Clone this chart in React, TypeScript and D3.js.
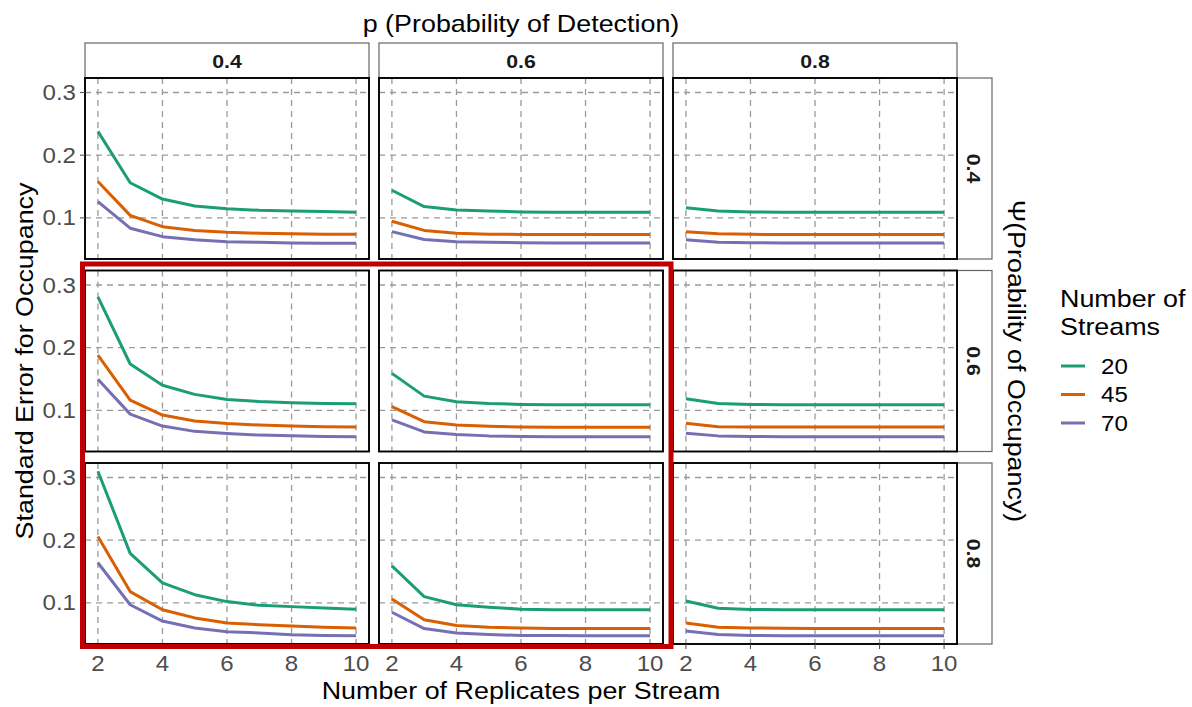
import React from "react";
import * as d3 from "d3";

// Facet levels and series
const replicates = [2, 3, 4, 5, 6, 7, 8, 9, 10];
const streamCounts = ["20", "45", "70"];
const detectionLevels = ["0.4", "0.6", "0.8"];
const occupancyLevels = ["0.4", "0.6", "0.8"];
const seriesColors = ["#1B9E77", "#D95F02", "#7570B3"];
const xTickValues = [2, 4, 6, 8, 10];
const yTickValues = [0.1, 0.2, 0.3];

// Standard error of occupancy; each panel holds the 20 / 45 / 70 stream series
const sePsi04P04 = [
  [0.238, 0.156, 0.13, 0.119, 0.1145, 0.112, 0.111, 0.11, 0.109],
  [0.158, 0.104, 0.086, 0.08, 0.077, 0.0755, 0.0745, 0.074, 0.074],
  [0.126, 0.0835, 0.07, 0.065, 0.062, 0.061, 0.06, 0.0595, 0.0595],
];
const sePsi04P06 = [
  [0.144, 0.118, 0.1127, 0.111, 0.1095, 0.109, 0.109, 0.109, 0.109],
  [0.0947, 0.08, 0.0756, 0.074, 0.0735, 0.0735, 0.0735, 0.0735, 0.0735],
  [0.078, 0.0655, 0.062, 0.061, 0.0603, 0.06, 0.06, 0.06, 0.06],
];
const sePsi04P08 = [
  [0.116, 0.111, 0.1095, 0.109, 0.109, 0.109, 0.109, 0.109, 0.109],
  [0.078, 0.0746, 0.0737, 0.0735, 0.0735, 0.0735, 0.0735, 0.0735, 0.0735],
  [0.065, 0.061, 0.0603, 0.06, 0.06, 0.06, 0.06, 0.06, 0.06],
];
const sePsi06P04 = [
  [0.281, 0.174, 0.14, 0.1255, 0.1175, 0.114, 0.112, 0.111, 0.1105],
  [0.188, 0.1165, 0.0925, 0.083, 0.079, 0.0765, 0.075, 0.074, 0.0735],
  [0.1495, 0.094, 0.075, 0.0665, 0.063, 0.0605, 0.0595, 0.0585, 0.058],
];
const sePsi06P06 = [
  [0.159, 0.1227, 0.1138, 0.111, 0.1095, 0.109, 0.109, 0.109, 0.109],
  [0.106, 0.082, 0.0767, 0.0746, 0.0735, 0.073, 0.073, 0.073, 0.073],
  [0.0847, 0.0656, 0.0614, 0.0593, 0.0585, 0.058, 0.058, 0.058, 0.058],
];
const sePsi06P08 = [
  [0.1185, 0.111, 0.1095, 0.109, 0.109, 0.109, 0.109, 0.109, 0.109],
  [0.0794, 0.074, 0.0735, 0.0733, 0.0733, 0.0733, 0.0733, 0.0733, 0.0733],
  [0.0635, 0.0593, 0.0583, 0.058, 0.058, 0.058, 0.058, 0.058, 0.058],
];
const sePsi08P04 = [
  [0.31, 0.179, 0.132, 0.113, 0.102, 0.096, 0.094, 0.092, 0.09],
  [0.206, 0.118, 0.089, 0.076, 0.068, 0.065, 0.063, 0.061, 0.06],
  [0.164, 0.097, 0.071, 0.06, 0.054, 0.052, 0.049, 0.048, 0.0475],
];
const sePsi08P06 = [
  [0.159, 0.11, 0.097, 0.093, 0.09, 0.089, 0.089, 0.089, 0.089],
  [0.106, 0.073, 0.064, 0.061, 0.06, 0.059, 0.059, 0.059, 0.059],
  [0.085, 0.059, 0.052, 0.0495, 0.048, 0.0478, 0.0477, 0.0476, 0.0475],
];
const sePsi08P08 = [
  [0.103, 0.0915, 0.0895, 0.089, 0.089, 0.089, 0.089, 0.089, 0.089],
  [0.068, 0.061, 0.06, 0.0595, 0.059, 0.059, 0.059, 0.059, 0.059],
  [0.055, 0.0495, 0.048, 0.0477, 0.0476, 0.0475, 0.0475, 0.0475, 0.0475],
];

const panelGrid = [
  [sePsi04P04, sePsi04P06, sePsi04P08],
  [sePsi06P04, sePsi06P06, sePsi06P08],
  [sePsi08P04, sePsi08P06, sePsi08P08],
];

// Layout
const W = 1192;
const H = 707;
const left0 = 85;
const top0 = 78;
const panelW = 284;
const panelH = 181;
const gapX = 10;
const gapY = 11.5;
const stripSize = 35;
const FONT = "'Liberation Sans', Arial, Helvetica, sans-serif";
const WIDE = 1.12; // horizontal widening of glyphs along the reading direction
const TICK_SIZE = 21.5;

const colLeft = (c: number) => left0 + c * (panelW + gapX);
const rowTop = (r: number) => top0 + r * (panelH + gapY);

// Shared (fixed) y scale with 5% padding
const allValues: number[] = panelGrid.flat(3) as number[];
const [yMin, yMax] = d3.extent(allValues) as [number, number];
const yPad = (yMax - yMin) * 0.05;
const xPad = (10 - 2) * 0.05;

type TProps = {
  x: number;
  y: number;
  rotate?: number;
  size: number;
  anchor?: string;
  weight?: string | number;
  fill?: string;
  children: React.ReactNode;
};

function Label({ x, y, rotate = 0, size, anchor = "middle", weight = "normal", fill = "#000", children }: TProps) {
  return (
    <text
      transform={`translate(${x},${y}) rotate(${rotate}) scale(${WIDE},1)`}
      fontSize={size}
      fontFamily={FONT}
      textAnchor={anchor}
      fontWeight={weight}
      fill={fill}
    >
      {children}
    </text>
  );
}

function Panel({ r, c }: { r: number; c: number }) {
  const x0 = colLeft(c);
  const y0 = rowTop(r);
  const x = d3.scaleLinear().domain([2 - xPad, 10 + xPad]).range([x0, x0 + panelW]);
  const y = d3.scaleLinear().domain([yMin - yPad, yMax + yPad]).range([y0 + panelH, y0]);
  const line = d3
    .line<number>()
    .x((_, i) => x(replicates[i]))
    .y((d) => y(d));
  const series = panelGrid[r][c];
  return (
    <g>
      <rect x={x0} y={y0} width={panelW} height={panelH} fill="#fff" />
      {yTickValues.map((t) => (
        <line
          key={"gy" + t}
          x1={x0}
          x2={x0 + panelW}
          y1={y(t)}
          y2={y(t)}
          stroke="#9a9a9a"
          strokeWidth={1.3}
          strokeDasharray="6,5"
        />
      ))}
      {xTickValues.map((t) => (
        <line
          key={"gx" + t}
          x1={x(t)}
          x2={x(t)}
          y1={y0}
          y2={y0 + panelH}
          stroke="#9a9a9a"
          strokeWidth={1.3}
          strokeDasharray="6,5"
        />
      ))}
      {series.map((vals, i) => (
        <path
          key={streamCounts[i]}
          d={line(vals) || ""}
          fill="none"
          stroke={seriesColors[i]}
          strokeWidth={3}
          strokeLinejoin="round"
        />
      ))}
      <rect x={x0} y={y0} width={panelW} height={panelH} fill="none" stroke="#000" strokeWidth={1.9} />
      {c === 0 &&
        yTickValues.map((t) => (
          <g key={"ty" + t}>
            <line x1={x0 - 5} x2={x0} y1={y(t)} y2={y(t)} stroke="#555" strokeWidth={1.1} />
            <Label x={x0 - 9} y={y(t) + 7.6} size={TICK_SIZE} anchor="end" fill="#4d4d4d">
              {t.toFixed(1)}
            </Label>
          </g>
        ))}
      {r === 2 &&
        xTickValues.map((t) => (
          <g key={"tx" + t}>
            <line x1={x(t)} x2={x(t)} y1={y0 + panelH} y2={y0 + panelH + 5} stroke="#555" strokeWidth={1.1} />
            <Label x={x(t)} y={670.5} size={TICK_SIZE} fill="#4d4d4d">
              {String(t)}
            </Label>
          </g>
        ))}
    </g>
  );
}

export default function App() {
  const gridRight = colLeft(2) + panelW;
  const gridBottom = rowTop(2) + panelH;
  const midX = (left0 + gridRight) / 2;
  const midY = (top0 + gridBottom) / 2;
  return (
    <svg width={W} height={H} style={{ position: "absolute", left: 0, top: 0, background: "#fff" }}>
      <rect x={0} y={0} width={W} height={H} fill="#fff" />

      {/* column strips: detection probability */}
      {detectionLevels.map((lv, c) => (
        <g key={"cs" + lv}>
          <rect
            x={colLeft(c)}
            y={top0 - stripSize}
            width={panelW}
            height={stripSize}
            fill="#fff"
            stroke="#666"
            strokeWidth={1.2}
          />
          <Label x={colLeft(c) + panelW / 2} y={top0 - stripSize / 2 + 7.2} size={19} weight="bold" fill="#1a1a1a">
            {lv}
          </Label>
        </g>
      ))}

      {/* row strips: occupancy probability */}
      {occupancyLevels.map((lv, r) => (
        <g key={"rs" + lv}>
          <rect
            x={gridRight}
            y={rowTop(r)}
            width={stripSize}
            height={panelH}
            fill="#fff"
            stroke="#666"
            strokeWidth={1.2}
          />
          <Label x={gridRight + stripSize / 2 - 7.2} y={rowTop(r) + panelH / 2} rotate={90} size={19} weight="bold" fill="#1a1a1a">
            {lv}
          </Label>
        </g>
      ))}

      {occupancyLevels.map((_, r) => detectionLevels.map((__, c) => <Panel key={`p${r}${c}`} r={r} c={c} />))}

      {/* highlight around the low-detection panels */}
      <rect x={82.5} y={264} width={588.5} height={382.5} fill="none" stroke="#C00000" strokeWidth={5} />

      {/* titles */}
      <Label x={midX} y={31.5} size={24}>
        p (Probability of Detection)
      </Label>
      <Label x={midX} y={699} size={24}>
        Number of Replicates per Stream
      </Label>
      <Label x={33} y={midY} rotate={-90} size={24}>
        Standard Error for Occupancy
      </Label>
      <Label x={1008} y={midY} rotate={90} size={24}>
        Ψ(Proability of Occupancy)
      </Label>

      {/* legend */}
      <Label x={1060} y={306.5} size={24} anchor="start">
        Number of
      </Label>
      <Label x={1060} y={335} size={24} anchor="start">
        Streams
      </Label>
      {streamCounts.map((s, i) => {
        const ly = 366 + i * 28.5;
        return (
          <g key={"lg" + s}>
            <line x1={1061} x2={1085} y1={ly} y2={ly} stroke={seriesColors[i]} strokeWidth={3} />
            <Label x={1101} y={ly + 7.6} size={TICK_SIZE} anchor="start">
              {s}
            </Label>
          </g>
        );
      })}
    </svg>
  );
}
